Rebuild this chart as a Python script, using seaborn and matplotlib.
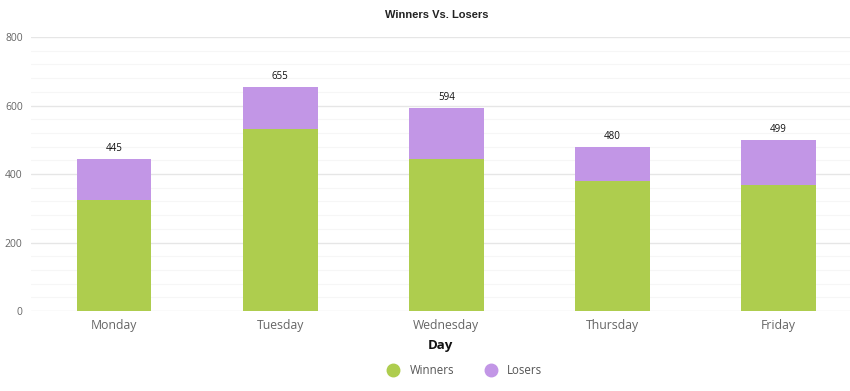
import matplotlib
matplotlib.use("Agg")
import matplotlib.pyplot as plt
import seaborn as sns
import numpy as np
import pandas as pd
from matplotlib.lines import Line2D

days = ["Monday", "Tuesday", "Wednesday", "Thursday", "Friday"]
winners = [325, 530, 445, 380, 367]
losers = [120, 125, 149, 100, 132]
totals = [w + l for w, l in zip(winners, losers)]

green = "#AECD4E"
purple = "#C296E6"

sns.set_theme(style="white")
plt.rcParams["font.family"] = ["Open Sans", "DejaVu Sans"]

fig = plt.figure(figsize=(8.5, 3.91), dpi=100)
ax = fig.add_axes([31/850, 1-311/391, 1-31/850, (311-37)/391])

df = pd.DataFrame({"Day": days, "Winners": winners, "Losers": losers, "Total": totals})

sns.barplot(data=df, x="Day", y="Total", color=purple, width=0.45, saturation=1, ax=ax,
            zorder=3, linewidth=0, edgecolor="none")
sns.barplot(data=df, x="Day", y="Winners", color=green, width=0.45, saturation=1, ax=ax,
            zorder=3, linewidth=0, edgecolor="none")

ax.set_ylim(0, 800)
ax.set_xlim(-0.5, 4.43)
ax.set_yticks([0, 200, 400, 600, 800])
ax.set_yticks(np.arange(0, 801, 40), minor=True)
ax.grid(axis="y", which="major", color="#e6e6e6", linewidth=1, zorder=0)
ax.grid(axis="y", which="minor", color="#f6f6f6", linewidth=0.8, zorder=0)
ax.set_axisbelow(True)
for s in ax.spines.values():
    s.set_visible(False)
ax.tick_params(axis="y", which="both", length=0, labelsize=7.5, labelcolor="#666666", pad=6)
ax.tick_params(axis="x", length=0, labelsize=8.8, labelcolor="#666666", pad=6)
ax.set_ylabel("")
ax.set_xlabel("Day", fontsize=9.5, fontweight="bold", color="#111111", labelpad=5)

for i, t in enumerate(totals):
    ax.text(i, t + 14, str(t), ha="center", va="bottom", fontsize=7, color="#111111")

fig.text(437/850, 1-15/391, "Winners Vs. Losers", ha="center", va="center",
         fontsize=8, fontweight="bold", color="#222222", family=["Liberation Sans", "DejaVu Sans"])

handles = [Line2D([0], [0], marker="o", linestyle="", markersize=9, markerfacecolor=green, markeredgecolor=green),
           Line2D([0], [0], marker="o", linestyle="", markersize=9, markerfacecolor=purple, markeredgecolor=purple)]
leg = fig.legend(handles, ["Winners", "Losers"], loc="center", bbox_to_anchor=(462/850, 1-371/391),
                 ncol=2, frameon=False, fontsize=8.3, handletextpad=0.4, columnspacing=2.2)
for t in leg.get_texts():
    t.set_color("#555555")

fig.savefig("out.png", dpi=100)
